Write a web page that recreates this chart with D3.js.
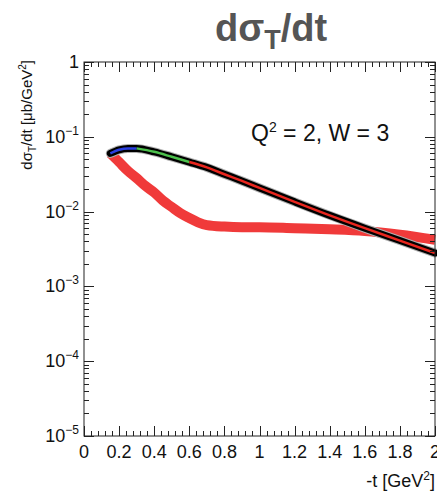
<!DOCTYPE html>
<html><head><meta charset="utf-8">
<script src="https://cdn.jsdelivr.net/npm/d3@7"></script>
<style>
html,body{margin:0;padding:0;background:#fff;}
svg{display:block;font-family:"Liberation Sans",Arial,Helvetica,sans-serif;}
</style></head>
<body>
<svg id="c" width="437" height="492"></svg>
<script>
// ---- data ----
const tValues = [0.15,0.2,0.25,0.3,0.4,0.5,0.6,0.7,0.8,0.9,1.0,1.2,1.4,1.6,1.8,2.0];
const sigmaModel = [0.060,0.067,0.070,0.070,0.063,0.054,0.046,0.039,0.0316,0.0257,0.0207,0.0135,0.0089,0.0060,0.0041,0.0028];
const tRed = [0.15,0.2,0.25,0.3,0.35,0.4,0.45,0.5,0.55,0.6,0.65,0.7,0.8,0.9,1.0,1.2,1.4,1.6,1.8,2.0];
const sigmaRed = [0.060,0.046,0.035,0.028,0.022,0.018,0.014,0.0115,0.0095,0.0082,0.0072,0.0066,0.0063,0.0062,0.0062,0.0060,0.0058,0.0055,0.0049,0.0042];
const segStart = [0.15,0.3,0.6];
const segEnd = [0.3,0.6,2.0];
const segColor = ["#2a3fe0","#4cc04c","#e8261e"];
const xTickValues = [0,0.2,0.4,0.6,0.8,1,1.2,1.4,1.6,1.8,2];
const xTickLabels = ["0","0.2","0.4","0.6","0.8","1","1.2","1.4","1.6","1.8","2"];
const yExponents = [0,-1,-2,-3,-4,-5];

// ---- layout ----
const L=84, R=435, T=62, B=436;
const svg = d3.select("#c");
const x = d3.scaleLinear().domain([0,2]).range([L,R]);
const y = d3.scaleLog().domain([1e-5,1]).range([B,T]);

// curves
const line = d3.line().x(d=>x(d[0])).y(d=>y(d[1])).curve(d3.curveMonotoneX);
const redData = tRed.map((t,i)=>[t,sigmaRed[i]]);
const blackData = tValues.map((t,i)=>[t,sigmaModel[i]]);

svg.append("path").attr("d",line(redData)).attr("fill","none")
  .attr("stroke","#f03a3a").attr("stroke-width",10).attr("stroke-linecap","butt");
svg.append("path").attr("d",line(blackData)).attr("fill","none")
  .attr("stroke","#b0b0b0").attr("stroke-width",9).attr("stroke-linecap","round");
svg.append("path").attr("d",line(blackData)).attr("fill","none")
  .attr("stroke","#000").attr("stroke-width",7).attr("stroke-linecap","round");
segStart.forEach((s,i)=>{
  const pts = blackData.filter(d=>d[0]>=s-1e-9 && d[0]<=segEnd[i]+1e-9);
  svg.append("path").attr("d",line(pts)).attr("fill","none")
    .attr("stroke",segColor[i]).attr("stroke-width",2.5);
});

// frame
svg.append("rect").attr("x",L).attr("y",T).attr("width",R-L).attr("height",B-T)
  .attr("fill","none").attr("stroke","#222").attr("stroke-width",1);

// x ticks (bottom & top)
const g = svg.append("g").attr("stroke","#222").attr("stroke-width",1);
const xMinor = d3.range(0,2.0001,0.04);
xMinor.forEach(v=>{
  const major = Math.abs(v/0.2 - Math.round(v/0.2))<1e-6;
  const len = major?10:5;
  const px = Math.round(x(v))+0.5;
  g.append("line").attr("x1",px).attr("x2",px).attr("y1",B).attr("y2",B-len);
  g.append("line").attr("x1",px).attr("x2",px).attr("y1",T).attr("y2",T+len);
});
// y ticks (left & right)
for(let e=-5;e<=0;e++){
  for(let m=1;m<=9;m++){
    const v=m*Math.pow(10,e);
    if(v>1+1e-9) break;
    const len = m===1?10:5;
    const py = Math.round(y(v))+0.5;
    g.append("line").attr("x1",L).attr("x2",L+len).attr("y1",py).attr("y2",py);
    g.append("line").attr("x1",R).attr("x2",R-len).attr("y1",py).attr("y2",py);
  }
}

// x tick labels
svg.append("g").selectAll("text").data(xTickValues).join("text")
  .attr("x",d=>x(d)).attr("y",B+22).attr("text-anchor","middle")
  .attr("font-size",18).attr("fill","#111").text((d,i)=>xTickLabels[i]);

// y tick labels
yExponents.forEach(e=>{
  const t = svg.append("text").attr("x",L-5).attr("y",y(Math.pow(10,e))+6)
    .attr("text-anchor","end").attr("font-size",18).attr("fill","#111");
  if(e===0){ t.text("1"); }
  else {
    t.append("tspan").text("10");
    t.append("tspan").attr("dy",-8).attr("font-size",12).text("\u2212"+(-e));
  }
});

// title
const ti = svg.append("text").attr("x",271).attr("y",41).attr("text-anchor","middle")
  .attr("font-size",38).attr("font-weight","bold").attr("fill","#555");
ti.append("tspan").text("d\u03c3");
ti.append("tspan").attr("dy",8).attr("font-size",27).text("T");
ti.append("tspan").attr("dy",-8).text("/dt");

// y axis title
const yt = svg.append("text").attr("transform","translate(32,60) rotate(-90)")
  .attr("text-anchor","end").attr("font-size",15).attr("fill","#111");
yt.append("tspan").text("d\u03c3");
yt.append("tspan").attr("dy",4).attr("font-size",10).text("T");
yt.append("tspan").attr("dy",-4).text("/dt [\u03bcb/GeV");
yt.append("tspan").attr("dy",-6).attr("font-size",10).text("2");
yt.append("tspan").attr("dy",6).text("]");

// x axis title
const xt = svg.append("text").attr("x",435).attr("y",487).attr("text-anchor","end")
  .attr("font-size",18).attr("fill","#111");
xt.append("tspan").text("-t [GeV");
xt.append("tspan").attr("dy",-7).attr("font-size",12).text("2");
xt.append("tspan").attr("dy",7).text("]");

// annotation
const an = svg.append("text").attr("x",251).attr("y",141).attr("font-size",23).attr("fill","#111");
an.append("tspan").text("Q");
an.append("tspan").attr("dy",-9).attr("font-size",14).text("2");
an.append("tspan").attr("dy",9).text(" = 2, W = 3");
</script>
</body></html>
